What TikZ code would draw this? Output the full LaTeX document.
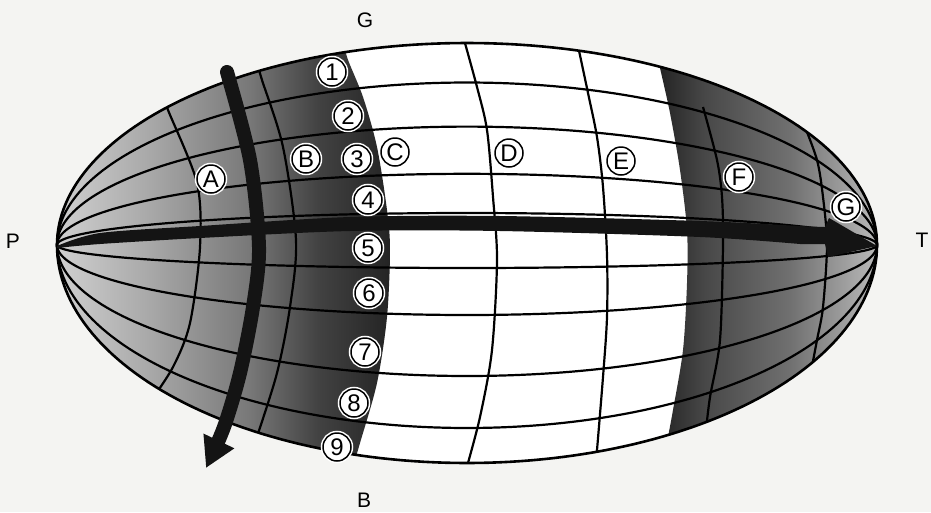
\documentclass[tikz,border=0pt]{standalone}
\usepackage{fontspec}
\setmainfont{Liberation Sans}
\usetikzlibrary{arrows.meta}
\definecolor{bgcol}{RGB}{244,244,242}
\definecolor{s0}{RGB}{215,215,215}
\definecolor{s1}{RGB}{168,168,168}
\definecolor{s2}{RGB}{120,120,120}
\definecolor{s3}{RGB}{66,66,66}
\definecolor{s4}{RGB}{34,34,34}
\definecolor{r0}{RGB}{28,28,28}
\definecolor{r1}{RGB}{72,72,72}
\definecolor{r2}{RGB}{112,112,112}
\definecolor{r3}{RGB}{196,196,196}
\begin{document}
\begin{tikzpicture}[x=1pt,y=-1pt,
  gridline/.style={line width=2.2pt, black},
  outline/.style={line width=2.6pt, black},
  circ/.style={circle, draw=black, fill=white, line width=1.5pt, inner sep=0pt,
    minimum size=28pt, font=\fontsize{24}{24}\selectfont,
    preaction={draw=white, line width=4.5pt}},
  lab/.style={font=\fontsize{21}{21}\selectfont, inner sep=0pt}]
\useasboundingbox (0,0) rectangle (931,512);
\fill[bgcol] (0,0) rectangle (931,512);
% white body
\fill[white] plot[domain=0:360,samples=241] ({467-410*cos(\x)},{245-sin(\x)*(sin(\x)>0 ? 202 : 218)}) -- cycle;
% left shaded region
\begin{scope}
  \clip plot[domain=0:360,samples=241] ({467-410*cos(\x)},{245-sin(\x)*(sin(\x)>0 ? 202 : 218)}) -- cycle;
  \clip (343,0) -- plot[smooth] coordinates {(343,35) (347,57) (363,97) (377,147) (387,210) (390,250) (387,317) (377,383) (360,443) (352,470)} -- (352,512) -- (0,512) -- (0,0) -- cycle;
  \shade[left color=s0, right color=s1] (40,0) rectangle (150,512);
  \shade[left color=s1, right color=s2] (150,0) rectangle (250,512);
  \shade[left color=s2, right color=s3] (250,0) rectangle (318,512);
  \shade[left color=s3, right color=s4] (318,0) rectangle (395,512);
\end{scope}
% right shaded region
\begin{scope}
  \clip plot[domain=0:360,samples=241] ({467-410*cos(\x)},{245-sin(\x)*(sin(\x)>0 ? 202 : 218)}) -- cycle;
  \clip (656,0) -- plot[smooth] coordinates {(656,50) (660,68) (670,113) (680,170) (687,230) (687,283) (683,350) (673,410) (668,437) (664,460)} -- (664,512) -- (931,512) -- (931,0) -- cycle;
  \shade[left color=r0, right color=r1] (650,0) rectangle (705,512);
  \shade[left color=r1, right color=r2] (705,0) rectangle (790,512);
  \shade[left color=r2, right color=r3] (790,0) rectangle (890,512);
\end{scope}
% meridians
\foreach \h in {162.5,118.4,71.2,32,-23,-70,-131,-183}
  \draw[gridline] plot[domain=0:180,samples=121] ({467-410*cos(\x)},{245-\h*sin(\x)});
% parallels
\begin{scope}
  \clip plot[domain=0:360,samples=241] ({467-410*cos(\x)},{245-sin(\x)*(sin(\x)>0 ? 202 : 218)}) -- cycle;
  \draw[gridline] plot[smooth] coordinates {(163,95) (168,110) (197,183) (200,247) (190,323) (173,367) (148,405)};
  \draw[gridline] plot[smooth] coordinates {(258,66) (262,80) (283,147) (296,240) (290,307) (277,373) (256,440) (254,448)};
  \draw[gridline] plot[smooth] coordinates {(463,36) (477,87) (487,130) (493,197) (497,260) (492,350) (480,417) (466,470)};
  \draw[gridline] plot[smooth] coordinates {(578,46) (588,93) (597,137) (603,187) (607,255) (607,317) (603,377) (596,462)};
  \draw[gridline] plot[smooth] coordinates {(703,107) (717,160) (722,197) (723,245) (720,340) (710,397) (706,430)};
  \draw[gridline] plot[smooth] coordinates {(803,122) (817,160) (823,197) (827,245) (823,307) (817,340) (809,382)};
\end{scope}
% outline
\draw[outline] plot[domain=0:360,samples=241] ({467-410*cos(\x)},{245-sin(\x)*(sin(\x)>0 ? 202 : 218)}) -- cycle;
% horizontal bar arrow
\fill[black!92] (57,247) -- plot[smooth] coordinates {(57,246) (100,233) (200,226) (350,217) (500,216) (700,221) (800,226) (825,227)}
  -- (829,218) -- (877,246) -- (828,257) -- (825,244)
  -- plot[smooth] coordinates {(800,244) (700,237) (500,231) (350,231) (200,238) (100,244) (57,248)} -- cycle;
% vertical arrow
\draw[black!92, line width=14pt, line cap=round, -{Triangle[width=32pt,length=30pt]}]
  plot[smooth] coordinates {(227,72) (250,160) (259,247) (253,307) (240,373) (224,427) (206,468)};
% circled labels
\node[circ] (n1) at (332,72) {1};
\node[circ] (n2) at (348,116) {2};
\node[circ] (n3) at (357,159) {3};
\node[circ] (n4) at (368,200) {4};
\node[circ] (n5) at (368,248) {5};
\node[circ] (n6) at (369,293) {6};
\node[circ] (n7) at (365,352) {7};
\node[circ] (n8) at (354,403) {8};
\node[circ] (n9) at (337,447) {9};
\node[circ] (ca) at (211,179) {A};
\node[circ] (cb) at (306,159) {B};
\node[circ] (cc) at (395,152) {C};
\node[circ] (cd) at (509,153) {D};
\node[circ] (ce) at (621,161) {E};
\node[circ] (cf) at (739,177) {F};
\node[circ] (cg) at (846,207) {G};
% outer labels
\node[lab] (lp) at (13,241) {P};
\node[lab] (lg) at (365,20) {G};
\node[lab] (lt) at (922,240) {T};
\node[lab] (lb) at (364,500) {B};
\end{tikzpicture}
\end{document}
